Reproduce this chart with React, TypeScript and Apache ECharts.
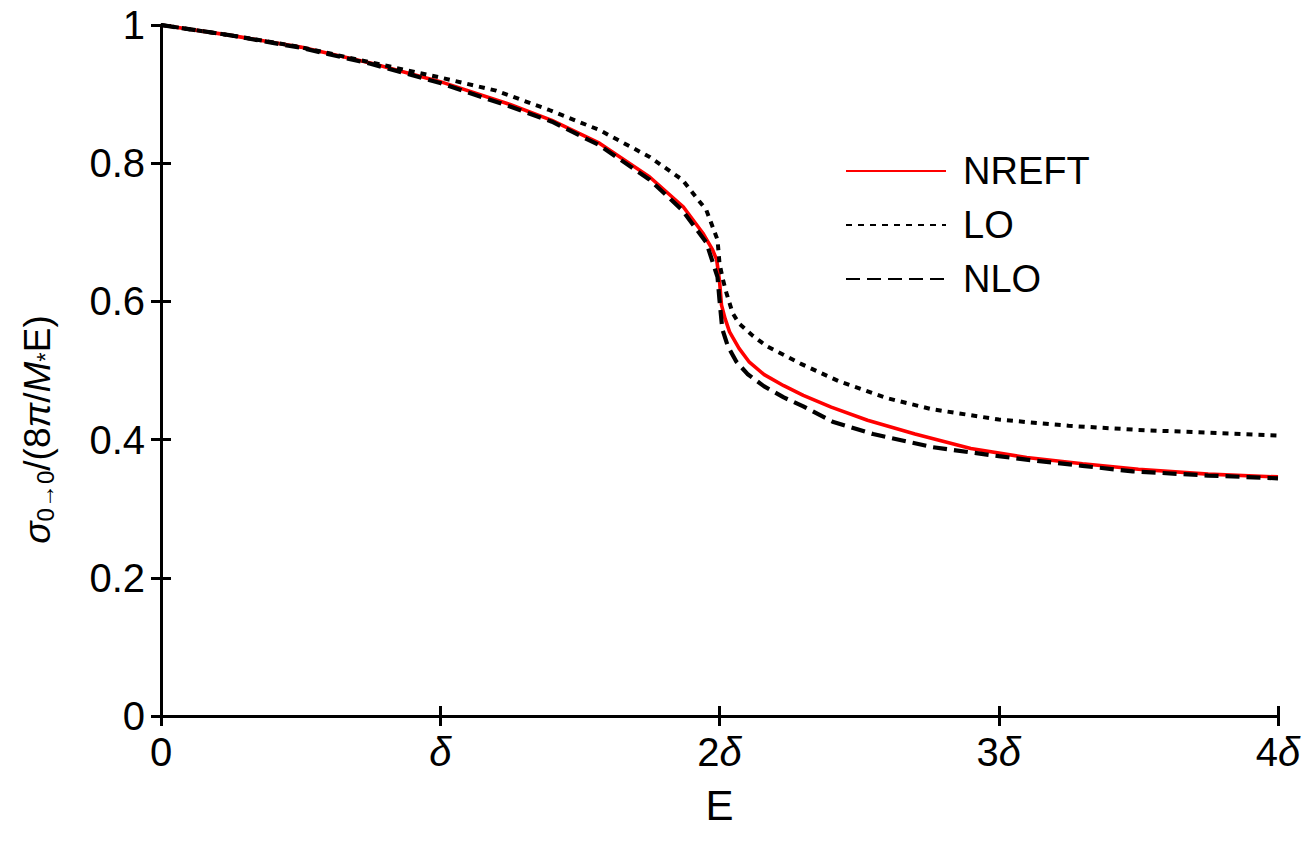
import React, { useEffect, useRef } from "react";
import * as echarts from "echarts";

const xTicks = [0, 1, 2, 3, 4];
const xTickLabels = ["0", "δ", "2δ", "3δ", "4δ"];

const nreftE = [0, 0.25, 0.5, 0.75, 1.0, 1.25, 1.4, 1.57, 1.75, 1.87, 1.94, 1.975, 1.99, 2.0, 2.007, 2.02, 2.036, 2.07, 2.107, 2.16, 2.23, 2.3, 2.4, 2.53, 2.7, 2.9, 3.1, 3.3, 3.5, 3.75, 4.0];
const nreftS = [1.0, 0.985, 0.968, 0.945, 0.918, 0.885, 0.862, 0.829, 0.78, 0.737, 0.699, 0.675, 0.66, 0.63, 0.595, 0.575, 0.556, 0.532, 0.512, 0.494, 0.478, 0.464, 0.447, 0.428, 0.408, 0.387, 0.374, 0.365, 0.357, 0.35, 0.346];

const loE = [0, 0.25, 0.5, 0.75, 1.0, 1.2, 1.39, 1.57, 1.75, 1.867, 1.953, 1.993, 2.0, 2.012, 2.025, 2.047, 2.07, 2.12, 2.17, 2.29, 2.43, 2.6, 2.76, 3.0, 3.25, 3.5, 3.75, 4.0];
const loS = [1.0, 0.985, 0.968, 0.946, 0.924, 0.905, 0.877, 0.848, 0.809, 0.776, 0.732, 0.689, 0.655, 0.632, 0.612, 0.583, 0.568, 0.55, 0.535, 0.51, 0.484, 0.46, 0.444, 0.429, 0.42, 0.414, 0.41, 0.406];

const nloE = [0, 0.25, 0.5, 0.75, 1.0, 1.25, 1.4, 1.57, 1.75, 1.867, 1.953, 1.993, 2.0, 2.01, 2.03, 2.06, 2.1, 2.16, 2.23, 2.3, 2.405, 2.55, 2.763, 3.0, 3.12, 3.3, 3.48, 3.75, 4.0];
const nloS = [1.0, 0.985, 0.967, 0.944, 0.916, 0.882, 0.86, 0.826, 0.776, 0.732, 0.685, 0.635, 0.602, 0.56, 0.535, 0.513, 0.495, 0.477, 0.461, 0.448, 0.426, 0.408, 0.389, 0.376, 0.37, 0.362, 0.354, 0.348, 0.344];

const FONT = "Liberation Sans";

function pairs(xs: number[], ys: number[]) {
  return xs.map((x, i) => [x, ys[i]]);
}

export default function App() {
  const ref = useRef<HTMLDivElement>(null);
  useEffect(() => {
    const chart = echarts.init(ref.current!, null, { renderer: "svg" });
    const axisLine = { show: true, lineStyle: { color: "#000", width: 3 } };
    const tick = { show: true, inside: true, length: 10, lineStyle: { color: "#000", width: 3 } };
    chart.setOption({
      animation: false,
      backgroundColor: "#fff",
      grid: { left: 161, right: 33, top: 25, bottom: 135 },
      legend: {
        orient: "vertical",
        left: 840,
        top: 146,
        itemWidth: 100,
        itemHeight: 14,
        itemGap: 14,
        itemStyle: { opacity: 0 },
        textStyle: { fontFamily: FONT, fontSize: 38, lineHeight: 40, color: "#000", padding: [0, 0, 0, 12] },
        data: ["NREFT", "LO", "NLO"],
      },
      xAxis: [
        {
          type: "value",
          min: 0,
          max: 4,
          interval: 1,
          position: "bottom",
          axisLine,
          axisTick: tick,
          splitLine: { show: false },
          name: "E",
          nameLocation: "middle",
          nameGap: 68,
          nameTextStyle: { fontFamily: FONT, fontSize: 42, color: "#000" },
          axisLabel: {
            margin: 16,
            formatter: (v: number) => {
              const i = xTicks.indexOf(v);
              const s = i >= 0 ? xTickLabels[i] : "";
              if (s.endsWith("δ")) {
                const n = s.slice(0, -1);
                return (n ? "{n|" + n + "}" : "") + "{d|δ}";
              }
              return "{n|" + s + "}";
            },
            rich: {
              n: { fontFamily: FONT, fontSize: 40, color: "#000" },
              d: { fontFamily: FONT, fontSize: 40, color: "#000", fontStyle: "italic" },
            },
          },
        },
        {
          type: "value",
          min: 0,
          max: 4,
          interval: 1,
          position: "top",
          axisLine,
          axisTick: tick,
          axisLabel: { show: false },
          splitLine: { show: false },
        },
      ],
      yAxis: [
        {
          type: "value",
          min: 0,
          max: 1,
          interval: 0.2,
          position: "left",
          axisLine,
          axisTick: tick,
          splitLine: { show: false },
          axisLabel: { margin: 16, fontFamily: FONT, fontSize: 40, color: "#000" },
          name: "{s|σ}{sub|0→0}{n|/(8}{s|π}{n|/}{s|M}{sub|*}{n|E)}",
          nameLocation: "middle",
          nameRotate: 90,
          nameGap: 104,
          nameTextStyle: {
            padding: [0, 118, 0, 0],
            rich: {
              s: { fontFamily: FONT, fontSize: 37, color: "#000", fontStyle: "italic" },
              n: { fontFamily: FONT, fontSize: 37, color: "#000" },
              sub: { fontFamily: FONT, fontSize: 24, color: "#000", padding: [16, 0, 0, 0] },
            },
          },
        },
        {
          type: "value",
          min: 0,
          max: 1,
          interval: 0.2,
          position: "right",
          axisLine,
          axisTick: tick,
          axisLabel: { show: false },
          splitLine: { show: false },
        },
      ],
      series: [
        {
          name: "NREFT",
          type: "line",
          data: pairs(nreftE, nreftS),
          symbol: "none",
          lineStyle: { color: "#ff0000", width: 3.6, type: "solid" },
          itemStyle: { color: "#ff0000" },
          z: 3,
        },
        {
          name: "LO",
          type: "line",
          data: pairs(loE, loS),
          symbol: "none",
          lineStyle: { color: "#000", width: 4, type: [6, 6] },
          itemStyle: { color: "#000" },
          z: 4,
        },
        {
          name: "NLO",
          type: "line",
          data: pairs(nloE, nloS),
          symbol: "none",
          lineStyle: { color: "#000", width: 4.2, type: [14, 7] },
          itemStyle: { color: "#000" },
          z: 5,
        },
      ],
    });
    return () => chart.dispose();
  }, []);
  return (
    <div
      ref={ref}
      style={{ position: "fixed", left: 0, top: 0, width: 1311, height: 851, background: "#fff" }}
    />
  );
}
